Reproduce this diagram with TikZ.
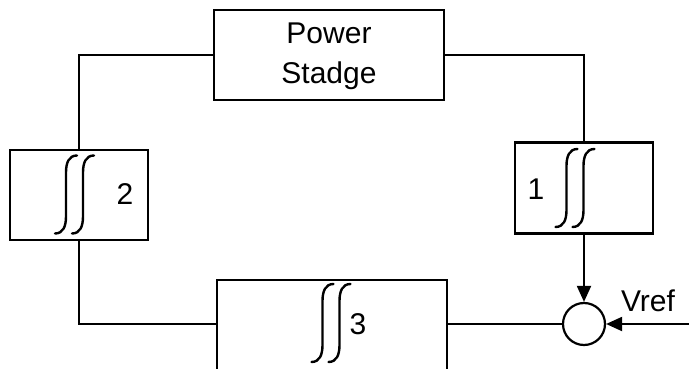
\documentclass[tikz,border=0pt]{standalone}
\usepackage{fontspec}
\setmainfont{Liberation Sans}
\usetikzlibrary{arrows.meta}
\tikzset{
  blk/.style={draw, line width=2.2pt, inner sep=0pt},
  wire/.style={line width=2pt},
  arr/.style={wire, -{Triangle[length=16pt,width=14pt]}},
  lbl/.style={font=\fontsize{30}{40}\selectfont, inner sep=0pt},
  integ/.pic={
    \draw[line width=2.4pt, line cap=round] (11,-39) .. controls (3,-39) and (0,-32) .. (0,-22)
      -- (0,22) .. controls (0,32) and (-3,39) .. (-11,39);
  },
  dint/.pic={
    \pic at (-8.5,0) {integ};
    \pic at (8.5,0) {integ};
  }
}
\begin{document}
\begin{tikzpicture}[x=1pt,y=-1pt]
\useasboundingbox (0,0) rectangle (689,369);
\clip (0,0) rectangle (689,369);
\node[blk, minimum width=230pt, minimum height=90pt] (pw) at (329,55) {};
\node[lbl, align=center] (pwt) at (329,56) {Power\\Stadge};
\node[blk, minimum width=138pt, minimum height=90pt] (b2) at (79,195) {};
\node[blk, minimum width=138pt, minimum height=91pt] (b1) at (584,188) {};
\node[blk, minimum width=230pt, minimum height=110pt] (b3) at (332,335) {};
\node[draw, circle, line width=2.2pt, minimum size=42pt, inner sep=0pt] (sum) at (584,324) {};
\pic at (74.5,194.5) {dint};
\pic at (575,188) {dint};
\pic at (331,323) {dint};
\node[lbl] (l2) at (125,194) {2};
\node[lbl] (l1) at (536,189) {1};
\node[lbl] (l3) at (358,324) {3};
\node[lbl] (vr) at (648,301) {Vref};
\coordinate (vin) at (689,324);
\draw[wire] (pw.west) -| (b2.north);
\draw[wire] (pw.east) -| (b1.north);
\draw[wire] (b2.south) |- (b3.west |- sum);
\draw[wire] (b3.east |- sum) -- (sum);
\draw[arr] (b1.south) -- (sum);
\draw[arr] (vin) -- (sum);
\end{tikzpicture}
\end{document}
